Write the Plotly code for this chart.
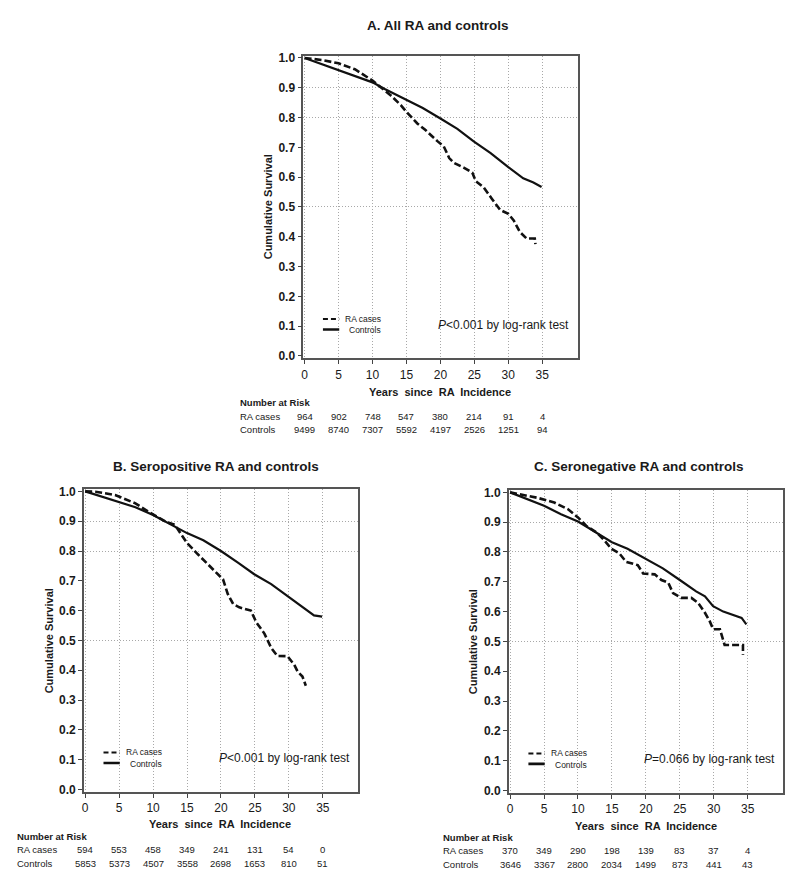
import plotly.graph_objects as go

# page body has an 8px default margin, so the figure is sized to fill the rest
OFF = 8
W, H = 800 - 2 * OFF, 885 - 2 * OFF
FONT = "Liberation Sans, Arial, sans-serif"
INK = "#111111"
TXT = "#1a1a1a"

# ---------------- data ----------------
a_time_ra = [0, 2.5, 5, 7.4, 10, 11.8, 12.7, 14.2, 15, 16.6, 17.8, 19.6, 20.5, 21.3, 22, 23.5,
             24.7, 25.2, 26.4, 27.6, 28.8, 30, 30.8, 31.7, 32.7, 33.9, 34.0]
a_surv_ra = [1.0, 0.993, 0.982, 0.962, 0.924, 0.89, 0.874, 0.841, 0.819, 0.78, 0.758, 0.72, 0.703,
             0.664, 0.648, 0.631, 0.615, 0.587, 0.565, 0.527, 0.49, 0.477, 0.455, 0.416, 0.394, 0.394, 0.375]
a_time_ctl = [0, 2.5, 5, 7.4, 10, 11.8, 15, 17.4, 20, 22.5, 24.9, 27.4, 30, 32.2, 33.7, 34.9]
a_surv_ctl = [1.0, 0.979, 0.96, 0.94, 0.918, 0.896, 0.858, 0.832, 0.797, 0.762, 0.72, 0.681, 0.634,
              0.596, 0.582, 0.567]

b_time_ra = [0, 1.5, 4.4, 7.4, 9.3, 11.8, 13.2, 15, 16.6, 17.8, 19.6, 20.3, 21, 21.8, 22.7, 24.4,
             25.2, 26.4, 27.4, 28.3, 29.8, 30.8, 31.3, 32, 32.5]
b_surv_ra = [1.0, 0.999, 0.988, 0.96, 0.932, 0.899, 0.888, 0.827, 0.789, 0.761, 0.722, 0.705, 0.656,
             0.622, 0.611, 0.60, 0.561, 0.523, 0.475, 0.448, 0.447, 0.418, 0.395, 0.379, 0.348]
b_time_ctl = [0, 2.5, 5, 7.4, 10, 11.8, 15, 17.4, 20, 22.5, 24.9, 27.4, 30, 32.2, 33.7, 34.9]
b_surv_ctl = [1.0, 0.982, 0.962, 0.947, 0.921, 0.899, 0.86, 0.836, 0.80, 0.761, 0.722, 0.689, 0.645,
              0.608, 0.584, 0.58]

c_time_ra = [0, 1.6, 4, 6.5, 8.5, 10, 11.2, 12.7, 13.9, 14.9, 16.1, 17.1, 18.8, 19.6, 21.3, 22.3,
             23.3, 24, 25.2, 26.7, 27.7, 28.7, 29.4, 29.9, 30.9, 31.6, 33.1, 34.3, 34.3]
c_surv_ra = [1.0, 0.993, 0.982, 0.966, 0.944, 0.916, 0.888, 0.866, 0.839, 0.811, 0.795, 0.767, 0.756,
             0.728, 0.725, 0.706, 0.697, 0.662, 0.646, 0.646, 0.629, 0.596, 0.568, 0.541, 0.541,
             0.488, 0.488, 0.488, 0.455]
c_time_ctl = [0, 2.6, 5, 7.5, 10, 11.4, 12.9, 15, 17.3, 20, 22.5, 25, 27.4, 28.7, 29.9, 31.4, 32.6,
              34.1, 34.8]
c_surv_ctl = [1.0, 0.977, 0.955, 0.927, 0.902, 0.883, 0.862, 0.833, 0.811, 0.778, 0.745, 0.706,
              0.668, 0.651, 0.618, 0.60, 0.59, 0.579, 0.557]

tick_years = [0, 5, 10, 15, 20, 25, 30, 35]
surv_ticks = [0, 0.1, 0.2, 0.3, 0.4, 0.5, 0.6, 0.7, 0.8, 0.9, 1.0]
surv_tick_labels = ["0.0", "0.1", "0.2", "0.3", "0.4", "0.5", "0.6", "0.7", "0.8", "0.9", "1.0"]
risk_a_ra = [964, 902, 748, 547, 380, 214, 91, 4]
risk_a_ctl = [9499, 8740, 7307, 5592, 4197, 2526, 1251, 94]
risk_b_ra = [594, 553, 458, 349, 241, 131, 54, 0]
risk_b_ctl = [5853, 5373, 4507, 3558, 2698, 1653, 810, 51]
risk_c_ra = [370, 349, 290, 198, 139, 83, 37, 4]
risk_c_ctl = [3646, 3367, 2800, 2034, 1499, 873, 441, 43]

titles = ["A. All RA and controls", "B. Seropositive RA and controls", "C. Seronegative RA and controls"]
pvals = ["<i>P</i><0.001 by log-rank test", "<i>P</i><0.001 by log-rank test",
         "<i>P</i>=0.066 by log-rank test"]
series_names = ["RA cases", "Controls"]


def px(x):
    return (x - OFF) / W


def py(y):
    return 1 - (y - OFF) / H


panels = [
    dict(xa="x", ya="y", xd=(302, 577), yd=(52, 358), title_xy=(437, 22), ytitle_xy=(267, 205),
         xtitle_xy=(439, 392), table_x=237, table_y=(403, 417, 430),
         t_ra=a_time_ra, s_ra=a_surv_ra, t_ctl=a_time_ctl, s_ctl=a_surv_ctl,
         risk_ra=risk_a_ra, risk_ctl=risk_a_ctl, ptxt=pvals[0], title=titles[0]),
    dict(xa="x2", ya="y2", xd=(82, 357), yd=(490, 796), title_xy=(215, 467), ytitle_xy=(48, 643),
         xtitle_xy=(219, 829), table_x=13, table_y=(841, 854, 868),
         t_ra=b_time_ra, s_ra=b_surv_ra, t_ctl=b_time_ctl, s_ctl=b_surv_ctl,
         risk_ra=risk_b_ra, risk_ctl=risk_b_ctl, ptxt=pvals[1], title=titles[1]),
    dict(xa="x3", ya="y3", xd=(508, 783), yd=(491, 797), title_xy=(639, 467), ytitle_xy=(473, 644),
         xtitle_xy=(646, 831), table_x=440, table_y=(842, 855, 869),
         t_ra=c_time_ra, s_ra=c_surv_ra, t_ctl=c_time_ctl, s_ctl=c_surv_ctl,
         risk_ra=risk_c_ra, risk_ctl=risk_c_ctl, ptxt=pvals[2], title=titles[2]),
]

fig = go.Figure()
annotations = []
shapes = []
layout_axes = {}
GRID = "#a8a8a8"

for i, p in enumerate(panels):
    fig.add_trace(go.Scatter(x=p["t_ctl"], y=p["s_ctl"], mode="lines", name=series_names[1],
                             line=dict(color=INK, width=2.2), xaxis=p["xa"], yaxis=p["ya"],
                             showlegend=False))
    fig.add_trace(go.Scatter(x=p["t_ra"], y=p["s_ra"], mode="lines", name=series_names[0],
                             line=dict(color=INK, width=2.6, dash="7px,3px"), xaxis=p["xa"],
                             yaxis=p["ya"], showlegend=False))

    sfx = "" if i == 0 else str(i + 1)
    layout_axes["xaxis" + sfx] = dict(
        domain=[px(p["xd"][0]), px(p["xd"][1])], range=[-0.2, 40.2], anchor=p["ya"],
        tickmode="array", tickvals=tick_years, ticks="outside", ticklen=4, tickcolor="#444",
        showline=True, linecolor="#555", linewidth=1.5, mirror=True,
        showgrid=True, gridcolor=GRID, griddash="1px,2px", gridwidth=1,
        zeroline=False, tickfont=dict(family=FONT, size=12, color=TXT))
    layout_axes["yaxis" + sfx] = dict(
        domain=[py(p["yd"][1]), py(p["yd"][0])], range=[-0.008, 1.008], anchor=p["xa"],
        tickmode="array", tickvals=surv_ticks,
        ticktext=["<b>%s</b>" % s for s in surv_tick_labels],
        ticks="outside", ticklen=4, tickcolor="#444",
        showline=True, linecolor="#555", linewidth=1.5, mirror=True,
        showgrid=False, zeroline=False,
        minor=dict(tickmode="array", tickvals=[0.5, 0.8, 0.9], showgrid=True, gridcolor=GRID,
                   griddash="1px,2px", gridwidth=1, ticks=""),
        tickfont=dict(family=FONT, size=12, color=TXT))

    # title
    annotations.append(dict(text="<b>%s</b>" % p["title"], x=px(p["title_xy"][0]), y=py(p["title_xy"][1]),
                            xref="paper", yref="paper", showarrow=False, xanchor="center", yanchor="middle",
                            font=dict(family=FONT, size=13.5, color=TXT)))
    annotations.append(dict(text="<b>Cumulative Survival</b>", x=px(p["ytitle_xy"][0]), y=py(p["ytitle_xy"][1]),
                            xref="paper", yref="paper", showarrow=False, textangle=-90,
                            xanchor="center", yanchor="middle",
                            font=dict(family=FONT, size=11, color=TXT)))
    annotations.append(dict(text="<b>Years  since  RA  Incidence</b>", x=px(p["xtitle_xy"][0]),
                            y=py(p["xtitle_xy"][1]), xref="paper", yref="paper", showarrow=False,
                            xanchor="center", yanchor="middle",
                            font=dict(family=FONT, size=11, color=TXT)))
    # p-value
    annotations.append(dict(text=p["ptxt"], x=39.3, y=0.104, xref=p["xa"], yref=p["ya"], showarrow=False,
                            xanchor="right", yanchor="middle",
                            font=dict(family=FONT, size=12, color=TXT)))
    # in-plot legend
    shapes.append(dict(type="line", xref=p["xa"], yref=p["ya"], x0=2.7, x1=5.1, y0=0.124, y1=0.124,
                       line=dict(color=INK, width=2, dash="5px,3px")))
    shapes.append(dict(type="line", xref=p["xa"], yref=p["ya"], x0=2.7, x1=5.1, y0=0.089, y1=0.089,
                       line=dict(color=INK, width=2.6)))
    annotations.append(dict(text=series_names[0], x=11.6, y=0.124, xref=p["xa"], yref=p["ya"],
                            showarrow=False, xanchor="right", yanchor="middle",
                            font=dict(family=FONT, size=8.5, color=TXT)))
    annotations.append(dict(text=series_names[1], x=11.6, y=0.086, xref=p["xa"], yref=p["ya"],
                            showarrow=False, xanchor="right", yanchor="middle",
                            font=dict(family=FONT, size=8.5, color=TXT)))
    # number at risk table
    ty = p["table_y"]
    annotations.append(dict(text="<b>Number at Risk</b>", x=px(p["table_x"]), y=py(ty[0]), xref="paper",
                            yref="paper", showarrow=False, xanchor="left", yanchor="middle",
                            font=dict(family=FONT, size=9.5, color=TXT)))
    for lab, yy in ((series_names[0], ty[1]), (series_names[1], ty[2])):
        annotations.append(dict(text=lab, x=px(p["table_x"]), y=py(yy), xref="paper", yref="paper",
                                showarrow=False, xanchor="left", yanchor="middle",
                                font=dict(family=FONT, size=9.5, color=TXT)))
    for t, n1, n2 in zip(tick_years, p["risk_ra"], p["risk_ctl"]):
        annotations.append(dict(text=str(n1), x=t, y=py(ty[1]), xref=p["xa"], yref="paper",
                                showarrow=False, xanchor="center", yanchor="middle",
                                font=dict(family=FONT, size=9.5, color=TXT)))
        annotations.append(dict(text=str(n2), x=t, y=py(ty[2]), xref=p["xa"], yref="paper",
                                showarrow=False, xanchor="center", yanchor="middle",
                                font=dict(family=FONT, size=9.5, color=TXT)))

fig.update_layout(width=W, height=H, margin=dict(l=0, r=0, t=0, b=0),
                  paper_bgcolor="white", plot_bgcolor="white", showlegend=False,
                  annotations=annotations, shapes=shapes, **layout_axes)

fig.write_html("out.html")
